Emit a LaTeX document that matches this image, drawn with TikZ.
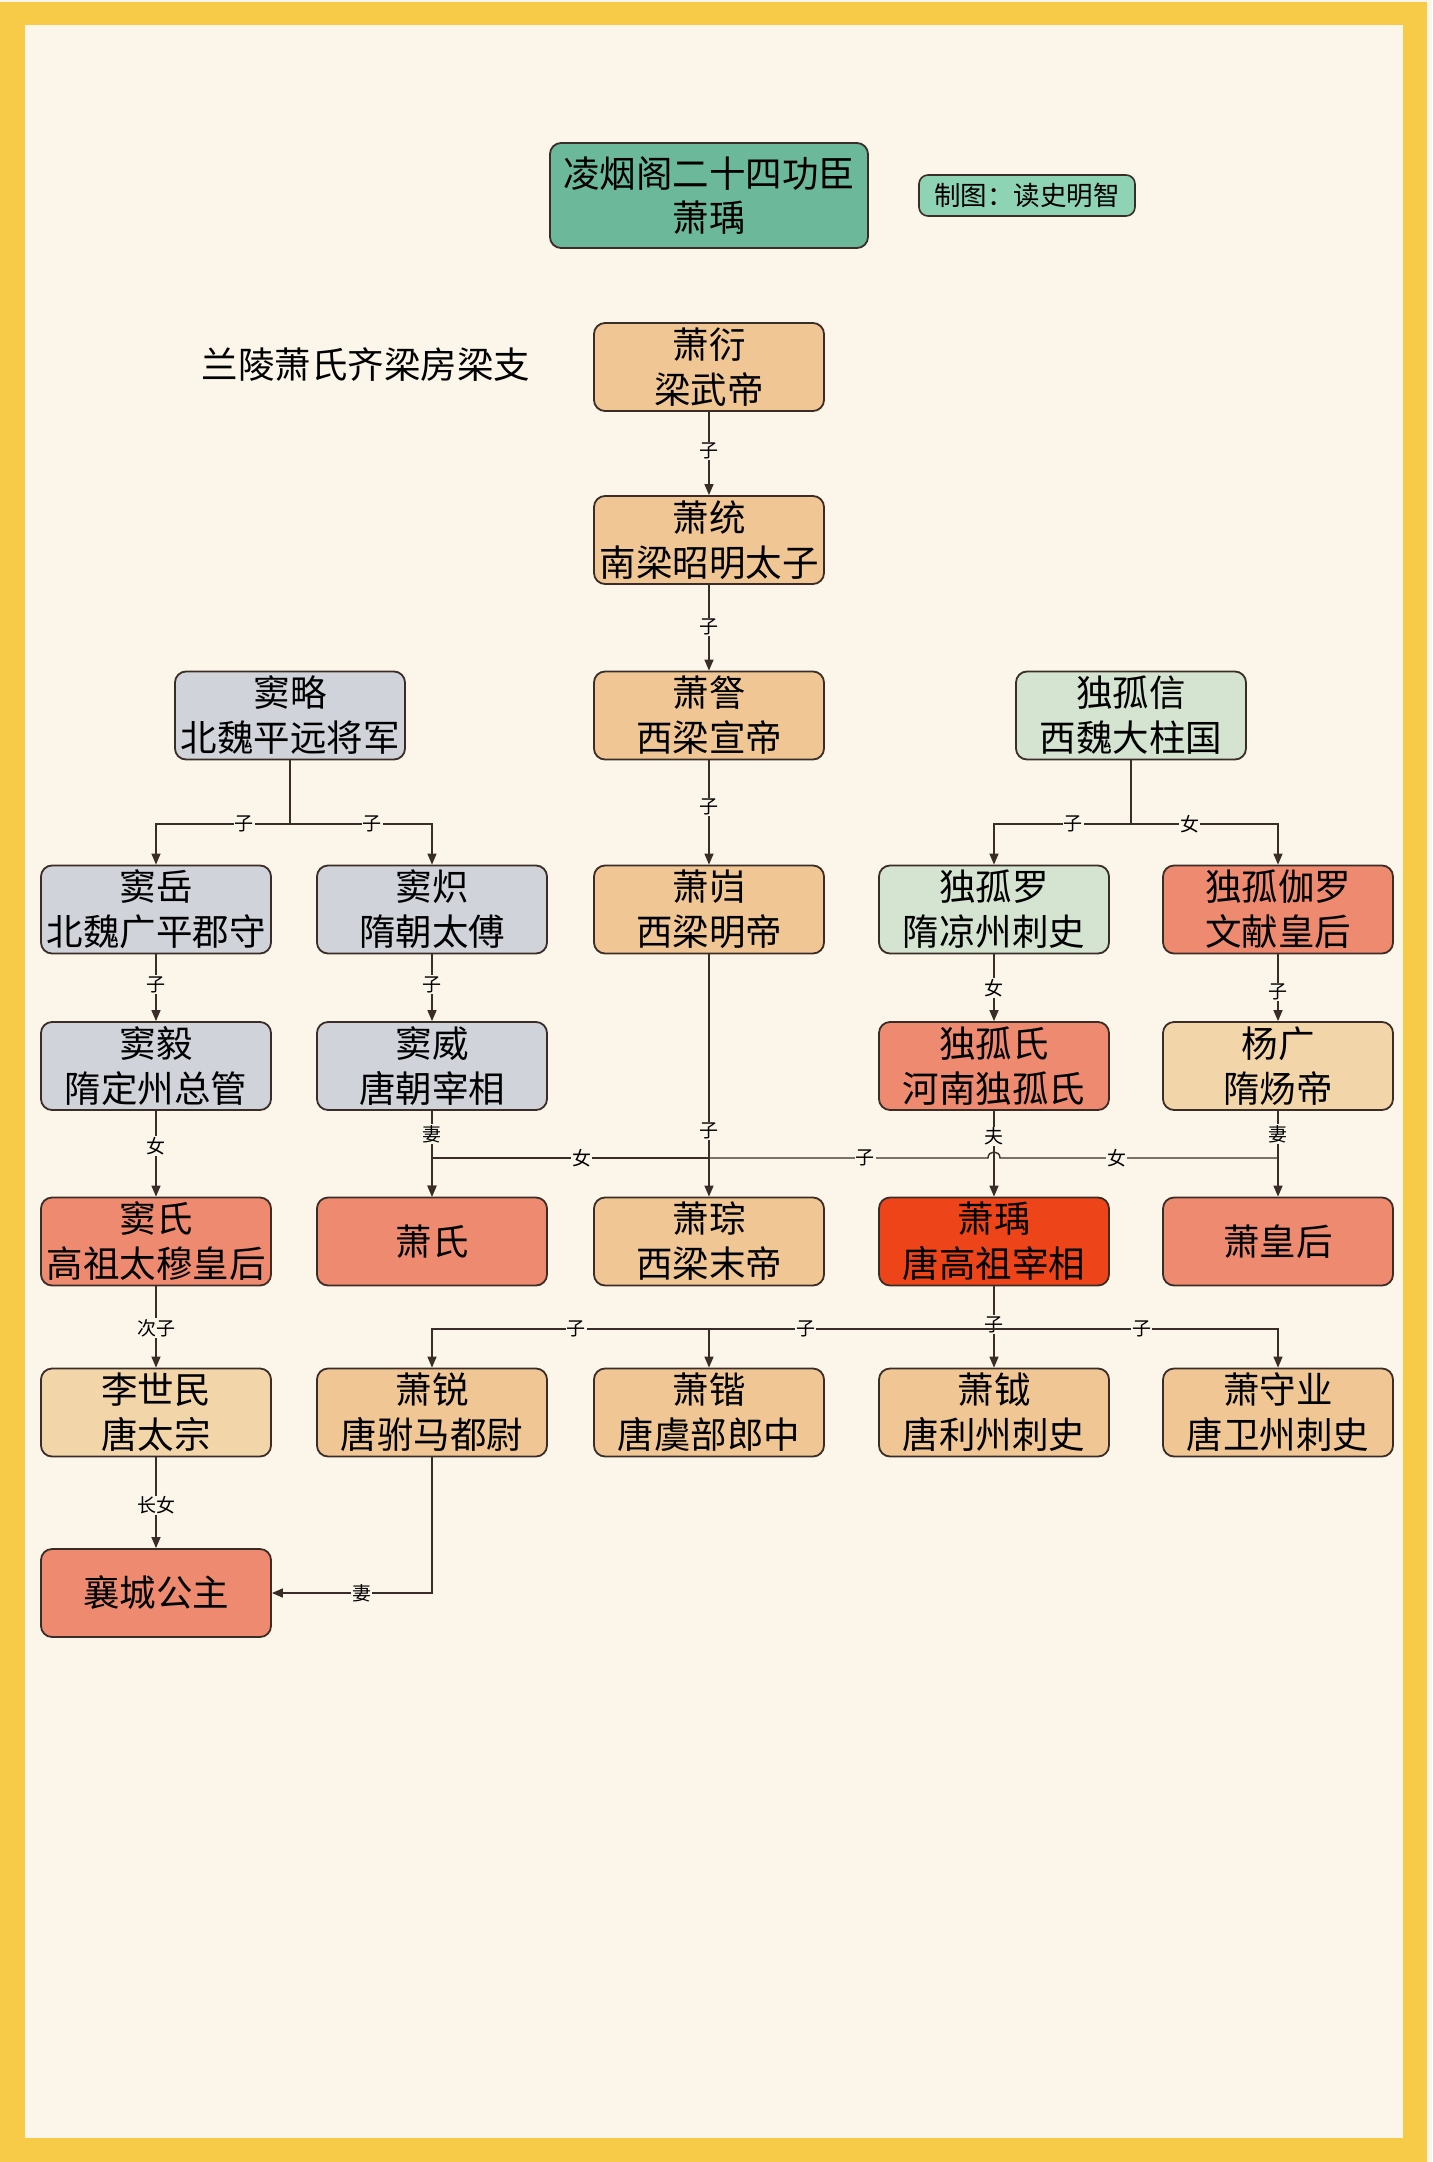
\documentclass[tikz,border=0pt]{standalone}
\usepackage{fontspec}
\newfontfamily\cjk{Noto Sans CJK SC}
\usetikzlibrary{arrows.meta}
\definecolor{bgc}{HTML}{FCF5E9}
\definecolor{frame}{HTML}{F7CB48}
\definecolor{titlec}{HTML}{6BB89B}
\definecolor{creditc}{HTML}{8FD3B5}
\definecolor{tanc}{HTML}{F0C794}
\definecolor{ltanc}{HTML}{F3D5AA}
\definecolor{grayc}{HTML}{D1D3DA}
\definecolor{greenc}{HTML}{D4E4D0}
\definecolor{salmonc}{HTML}{EE8A70}
\definecolor{redc}{HTML}{EE4419}
\definecolor{edgec}{HTML}{3A2C26}
\tikzset{
  box/.style={draw=edgec, line width=1.8pt, rounded corners=11pt, minimum width=230pt, minimum height=88pt, inner sep=0pt, align=center, font=\cjk\fontsize{36.5}{45}\selectfont, text=black},
  tan/.style={box, fill=tanc},
  ltan/.style={box, fill=ltanc},
  grayb/.style={box, fill=grayc},
  greenb/.style={box, fill=greenc},
  salmon/.style={box, fill=salmonc},
  redb/.style={box, fill=redc},
  conn/.style={draw=edgec, line width=1.4pt},
  arr/.style={conn, -{Triangle[length=11pt,width=9pt]}},
  lab/.style={fill=bgc, inner sep=1pt, font=\cjk\fontsize{19}{19}\selectfont, text=black},
}
\begin{document}
\begin{tikzpicture}[x=1pt,y=-1pt]
\useasboundingbox (0,0) rectangle (1432,2162);
\fill[bgc] (0,0) rectangle (1432,2162);
\fill[frame] (0,2) rectangle (1427,2162);
\fill[bgc] (25,25) rectangle (1403,2138);

% title
\node[box, fill=titlec, minimum width=318pt, minimum height=105pt, font=\cjk\fontsize{36.5}{44}\selectfont] (title) at (709,195.5) {凌烟阁二十四功臣\\萧瑀};
\node[draw=edgec, line width=1.6pt, rounded corners=9pt, fill=creditc, minimum width=216pt, minimum height=41pt, inner sep=0pt, font=\cjk\fontsize{26.5}{26.5}\selectfont] (credit) at (1027,195.5) {制图：读史明智};
\node[font=\cjk\fontsize{36.5}{36.5}\selectfont, inner sep=0pt] (branch) at (366,365) {兰陵萧氏齐梁房梁支};

% nodes
\node[tan] (xyan) at (709,367) {萧衍\\梁武帝};
\node[tan] (xtong) at (709,540) {萧统\\南梁昭明太子};
\node[tan] (xcha) at (709,715.5) {萧詧\\西梁宣帝};
\node[grayb] (dlue) at (290,715.5) {窦略\\北魏平远将军};
\node[greenb] (dgx) at (1131,715.5) {独孤信\\西魏大柱国};

\node[grayb] (dyue) at (156,909.5) {窦岳\\北魏广平郡守};
\node[grayb] (dchi) at (432,909.5) {窦炽\\隋朝太傅};
\node[tan] (xkui) at (709,909.5) {萧岿\\西梁明帝};
\node[greenb] (dgl) at (994,909.5) {独孤罗\\隋凉州刺史};
\node[salmon] (dgjl) at (1278,909.5) {独孤伽罗\\文献皇后};

\node[grayb] (dyi) at (156,1066) {窦毅\\隋定州总管};
\node[grayb] (dwei) at (432,1066) {窦威\\唐朝宰相};
\node[salmon] (dgs) at (994,1066) {独孤氏\\河南独孤氏};
\node[ltan] (yg) at (1278,1066) {杨广\\隋炀帝};

\node[salmon] (dshi) at (156,1241.5) {窦氏\\高祖太穆皇后};
\node[salmon] (xshi) at (432,1241.5) {萧氏};
\node[tan] (xcong) at (709,1241.5) {萧琮\\西梁末帝};
\node[redb] (xyu) at (994,1241.5) {萧瑀\\唐高祖宰相};
\node[salmon] (xhh) at (1278,1241.5) {萧皇后};

\node[ltan] (lsm) at (156,1412.5) {李世民\\唐太宗};
\node[tan] (xrui) at (432,1412.5) {萧锐\\唐驸马都尉};
\node[tan] (xkai) at (709,1412.5) {萧锴\\唐虞部郎中};
\node[tan] (xyue) at (994,1412.5) {萧钺\\唐利州刺史};
\node[tan] (xsy) at (1278,1412.5) {萧守业\\唐卫州刺史};

\node[salmon] (xc) at (156,1593) {襄城公主};

% Xiao line
\draw[arr] (xyan) -- node[lab,pos=0.47]{子} (xtong);
\draw[arr] (xtong) -- node[lab,pos=0.49]{子} (xcha);
\draw[arr] (xcha) -- node[lab,pos=0.45]{子} (xkui);

% Dou lue branch
\coordinate (b1) at (290,824);
\draw[conn] (dlue) -- (b1);
\draw[arr] (b1) -| node[lab,pos=0.17]{子} (dyue.north);
\draw[arr] (b1) -| node[lab,pos=0.29]{子} (dchi.north);

% Dugu xin branch
\coordinate (b2) at (1131,824);
\draw[conn] (dgx) -- (b2);
\draw[arr] (b2) -| node[lab,pos=0.21]{子} (dgl.north);
\draw[arr] (b2) -| node[lab,pos=0.2]{女} (dgjl.north);

% row 4 -> 5
\draw[arr] (dyue) -- node[lab,pos=0.45]{子} (dyi);
\draw[arr] (dchi) -- node[lab,pos=0.45]{子} (dwei);
\draw[arr] (dgl) -- node[lab,pos=0.5]{女} (dgs);
\draw[arr] (dgjl) -- node[lab,pos=0.56]{子} (yg);

% row 5 -> 6
\draw[arr] (dyi) -- node[lab,pos=0.41]{女} (dshi);
\draw[arr] (dwei) -- node[lab,pos=0.27]{妻} (xshi);
\draw[arr] (dgs) -- node[lab,pos=0.3]{夫} (xyu);
\draw[arr] (yg) -- node[lab,pos=0.27]{妻} (xhh);
\draw[arr] (xkui) -- node[lab,pos=0.73]{子} (xcong);

\coordinate (h6) at (709,1158);
\coordinate (h6a) at (988,1158);
\coordinate (h6b) at (1000,1158);
\coordinate (h6c) at (1278,1158);
\draw[arr] (h6) -| node[lab,pos=0.23]{女} (xshi.north);
\draw[conn] (h6) -- node[lab,pos=0.56]{子} (h6a) .. controls (988,1150) and (1000,1150) .. (h6b) -- node[lab,pos=0.42]{女} (h6c);

% Xiao Yu children
\draw[arr] (xyu) -- node[lab,pos=0.47]{子} (xyue);
\coordinate (h7) at (994,1329);
\coordinate (h7b) at (709,1329);
\draw[arr] (h7) -| node[lab,pos=0.33]{子} (xkai.north);
\draw[arr] (h7b) -| node[lab,pos=0.24]{子} (xrui.north);
\draw[arr] (h7) -| node[lab,pos=0.26]{子} (xsy.north);

% Li line
\draw[arr] (dshi) -- node[lab,pos=0.51]{次子} (lsm);
\draw[arr] (lsm) -- node[lab,pos=0.53]{长女} (xc);
\draw[arr] (xrui.south) |- node[lab,pos=0.72]{妻} (xc.east);
\end{tikzpicture}
\end{document}
